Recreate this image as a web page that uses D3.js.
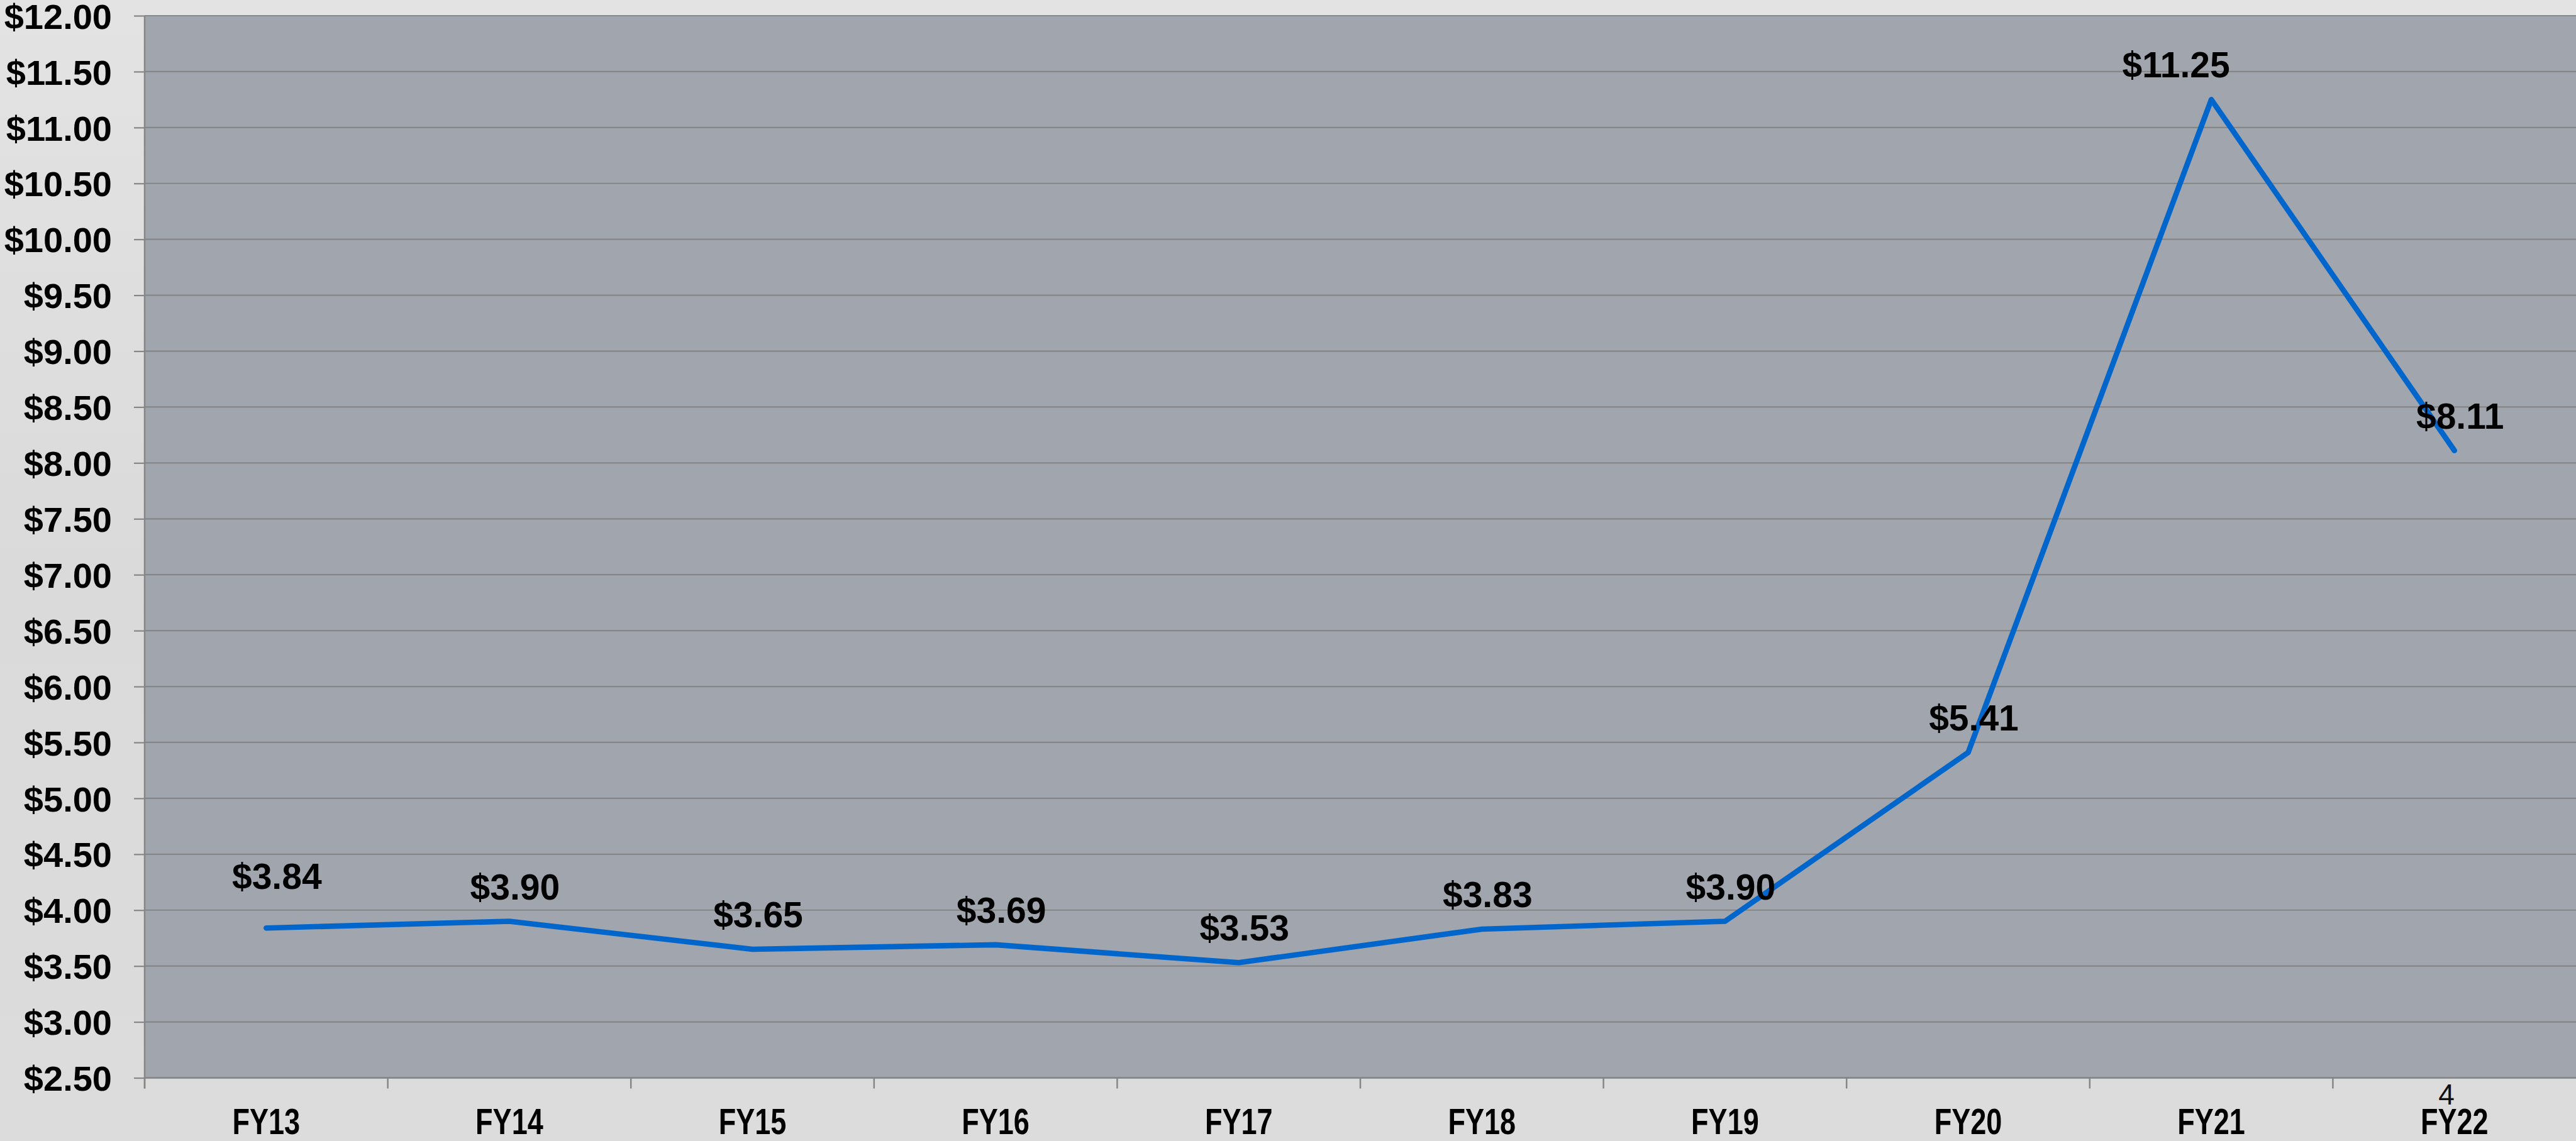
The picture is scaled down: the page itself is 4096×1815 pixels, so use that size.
<!DOCTYPE html>
<html>
<head>
<meta charset="utf-8">
<script src="https://cdn.jsdelivr.net/npm/d3@7"></script>
<style>
  html, body { margin: 0; padding: 0; background: #dcdcdc; }
  svg { display: block; }
</style>
</head>
<body>
<svg id="chart" width="4096" height="1815"></svg>
<script>
// ---- data ----
const categories = ["FY13", "FY14", "FY15", "FY16", "FY17", "FY18", "FY19", "FY20", "FY21", "FY22"];
const values = [3.84, 3.90, 3.65, 3.69, 3.53, 3.83, 3.90, 5.41, 11.25, 8.11];
const yTickValues = [2.5, 3, 3.5, 4, 4.5, 5, 5.5, 6, 6.5, 7, 7.5, 8, 8.5, 9, 9.5, 10, 10.5, 11, 11.5, 12];
const pageNumber = "4";

(function () {
  // ---- layout ----
  const W = 4096, H = 1815;
  const plotL = 230, plotR = 4096, plotT = 25, plotB = 1714.5;
  const svg = d3.select("#chart");

  // background
  const defs = svg.append("defs");
  const bg = defs.append("linearGradient").attr("id", "bg").attr("x1", 0).attr("y1", 0).attr("x2", 0).attr("y2", 1);
  bg.append("stop").attr("offset", "0%").attr("stop-color", "#e3e3e3");
  bg.append("stop").attr("offset", "50%").attr("stop-color", "#dadada");
  bg.append("stop").attr("offset", "100%").attr("stop-color", "#dcdcdc");
  svg.append("rect").attr("width", W).attr("height", H).attr("fill", "url(#bg)");

  const x = d3.scaleBand().domain(categories).range([plotL, plotR]);
  const y = d3.scaleLinear().domain([2.5, 12]).range([plotB, plotT]);

  // plot area
  svg.append("rect")
    .attr("x", plotL).attr("y", plotT)
    .attr("width", plotR - plotL).attr("height", plotB - plotT)
    .attr("fill", "#a1a5ad");

  const gridColor = "#868686";

  // gridlines
  svg.append("g").selectAll("line").data(yTickValues).join("line")
    .attr("x1", plotL).attr("x2", plotR)
    .attr("y1", d => y(d)).attr("y2", d => y(d))
    .attr("stroke", gridColor).attr("stroke-width", 2.2);

  // y axis
  const yAxis = svg.append("g")
    .attr("transform", `translate(${plotL},0)`)
    .call(d3.axisLeft(y).tickValues(yTickValues).tickFormat(d3.format("$.2f")).tickSize(17).tickPadding(35));
  yAxis.select(".domain").remove();
  yAxis.selectAll(".tick line").attr("stroke", gridColor).attr("stroke-width", 2.2);
  yAxis.selectAll(".tick text")
    .attr("font-family", "'Liberation Sans', Arial, sans-serif")
    .attr("font-weight", "bold")
    .attr("font-size", 56)
    .attr("fill", "#000")
    .attr("dy", "0.36em");

  // y axis line (extends to tick length below)
  svg.append("line")
    .attr("x1", plotL).attr("x2", plotL)
    .attr("y1", plotT).attr("y2", plotB + 17)
    .attr("stroke", gridColor).attr("stroke-width", 2.5);

  // x axis labels
  const xAxis = svg.append("g")
    .attr("transform", `translate(0,${plotB})`)
    .call(d3.axisBottom(x).tickSize(0).tickPadding(0));
  xAxis.select(".domain").remove();
  xAxis.selectAll(".tick text")
    .attr("font-family", "'Liberation Sans', Arial, sans-serif")
    .attr("font-weight", "bold")
    .attr("font-size", 57)
    .attr("fill", "#000")
    .attr("y", 89.5)
    .attr("dy", 0)
    .attr("transform", "scale(0.79,1)");

  // x category boundary ticks
  svg.append("g").selectAll("line").data(categories).join("line")
    .attr("x1", d => x(d)).attr("x2", d => x(d))
    .attr("y1", plotB).attr("y2", plotB + 17)
    .attr("stroke", gridColor).attr("stroke-width", 2.5);

  // bottom axis line
  svg.append("line")
    .attr("x1", plotL).attr("x2", plotR)
    .attr("y1", plotB).attr("y2", plotB)
    .attr("stroke", gridColor).attr("stroke-width", 2.5);

  // line series
  const cx = c => x(c) + x.bandwidth() / 2;
  const line = d3.line().x((d, i) => cx(categories[i])).y(d => y(d));
  svg.append("path")
    .datum(values)
    .attr("d", line)
    .attr("fill", "none")
    .attr("stroke", "#0066cc")
    .attr("stroke-width", 8.6)
    .attr("stroke-linejoin", "round")
    .attr("stroke-linecap", "round");

  // data labels
  const labelDx = i => (i === 0 ? 17 : i === 8 ? -56 : 9);
  const labelDy = i => (i === 0 ? -62 : -35);
  svg.append("g").selectAll("text").data(values).join("text")
    .attr("x", (d, i) => cx(categories[i]) + labelDx(i))
    .attr("y", (d, i) => y(d) + labelDy(i))
    .attr("text-anchor", "middle")
    .attr("font-family", "'Liberation Sans', Arial, sans-serif")
    .attr("font-weight", "bold")
    .attr("font-size", 57)
    .attr("fill", "#000")
    .text(d => d3.format("$.2f")(d));

  // page number
  svg.append("text")
    .attr("x", 3890).attr("y", 1757)
    .attr("text-anchor", "middle")
    .attr("font-family", "'Liberation Sans', Arial, sans-serif")
    .attr("font-size", 46)
    .attr("fill", "#111")
    .text(pageNumber);
})();
</script>
</body>
</html>
